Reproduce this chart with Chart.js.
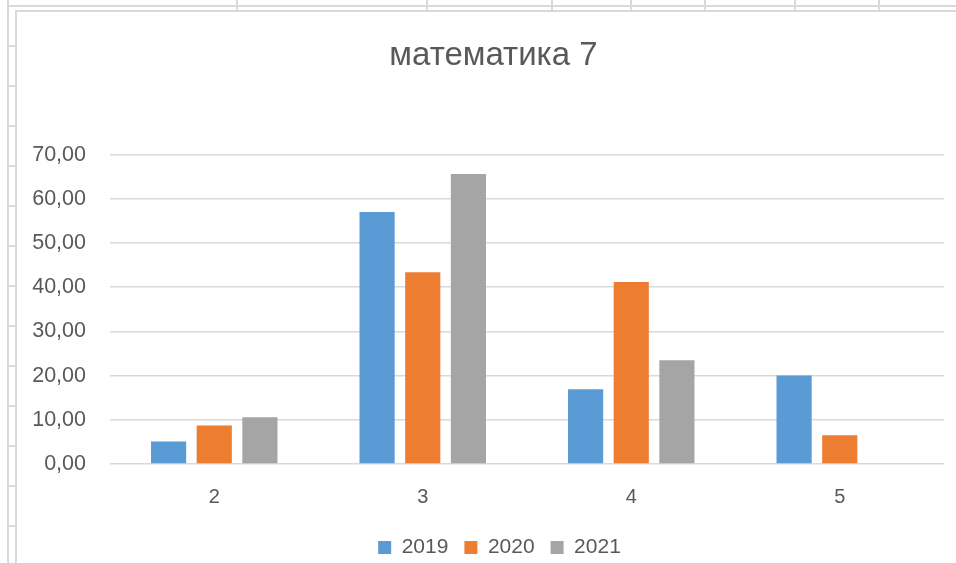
<!DOCTYPE html>
<html>
<head>
<meta charset="utf-8">
<script src="https://cdn.jsdelivr.net/npm/chart.js@4/dist/chart.umd.min.js"></script>
<style>
  html, body { margin: 0; padding: 0; background: #ffffff; }
  body { width: 956px; height: 563px; position: relative; overflow: hidden; }
  .ln { position: absolute; background: #d9d9d9; }
  #frame { position: absolute; left: 15px; top: 10px; right: 0; bottom: 0;
           border-left: 2px solid #d9d9d9; border-top: 2px solid #d9d9d9; background: #fff; }
  #wrap { position: absolute; left: 17px; top: 12px; width: 939px; height: 556px; }
</style>
</head>
<body>
<div id="deco"></div>
<div id="frame"></div>
<div id="wrap"><canvas id="c" width="939" height="556"></canvas></div>
<script>
// ---- data ----
const categories = ['2', '3', '4', '5'];
const seriesNames = ['2019', '2020', '2021'];
const values2019 = [5.1, 57.0, 16.9, 20.0];
const values2020 = [8.7, 43.4, 41.2, 6.5];
const values2021 = [10.6, 65.6, 23.5, 0];
const yTicks = [0, 10, 20, 30, 40, 50, 60, 70];
const chartTitle = 'математика 7';

// ---- spreadsheet background decoration ----
(function () {
  const deco = document.getElementById('deco');
  function add(l, t, w, h) {
    const d = document.createElement('div');
    d.className = 'ln';
    d.style.left = l + 'px'; d.style.top = t + 'px';
    d.style.width = w + 'px'; d.style.height = h + 'px';
    deco.appendChild(d);
  }
  add(7, 0, 2, 563);          // left column line
  add(7, 5, 949, 2);          // top row line
  [236, 426, 551, 630, 704, 794, 878].forEach(x => add(x, 0, 2, 11));
  for (let y = 45; y < 563; y += 40) add(7, y, 9, 2);
})();

const colors = ['#5B9BD5', '#ED7D31', '#A5A5A5'];
const FONT = "'Liberation Sans', Arial, sans-serif";
const TXT = '#595959';

// shift title and legend horizontally (Excel centres them on the whole chart box)
const shiftBlocks = {
  id: 'shiftBlocks',
  afterLayout(chart) {
    const t = chart.titleBlock;
    if (t) { t.left += 13; t.right += 13; }
    const l = chart.legend;
    if (l) { l.left += 19; l.right += 19; }
  }
};

new Chart(document.getElementById('c'), {
  type: 'bar',
  data: {
    labels: categories,
    datasets: [values2019, values2020, values2021].map((v, i) => ({
      label: seriesNames[i],
      data: v,
      backgroundColor: colors[i],
      borderWidth: 0,
      categoryPercentage: 0.657,
      barPercentage: 0.77
    }))
  },
  plugins: [shiftBlocks],
  options: {
    responsive: false,
    animation: false,
    devicePixelRatio: 1,
    layout: { padding: { left: 0, right: 12, top: 0, bottom: 0 } },
    plugins: {
      title: {
        display: true,
        text: chartTitle,
        color: TXT,
        font: { family: FONT, size: 33, weight: 'normal', lineHeight: 1.2 },
        padding: { top: 24, bottom: 79 }
      },
      legend: {
        display: true,
        position: 'bottom',
        labels: {
          color: TXT,
          font: { family: FONT, size: 21 },
          boxWidth: 13,
          boxHeight: 13,
          padding: 16
        }
      },
      tooltip: { enabled: false }
    },
    scales: {
      x: {
        grid: { display: false },
        border: { display: false },
        ticks: { color: TXT, font: { family: FONT, size: 20 }, padding: 13 },
        afterFit: s => { s.height = 57; }
      },
      y: {
        min: 0,
        max: 70,
        afterBuildTicks: s => { s.ticks = yTicks.map(v => ({ value: v })); },
        grid: { color: '#d9d9d9', lineWidth: 1.5, drawTicks: false },
        border: { display: false },
        ticks: {
          color: TXT,
          font: { family: FONT, size: 21.5 },
          padding: 24,
          callback: v => Number(v).toFixed(2).replace('.', ',')
        },
        afterFit: s => { s.width = 93; }
      }
    }
  }
});
</script>
</body>
</html>
